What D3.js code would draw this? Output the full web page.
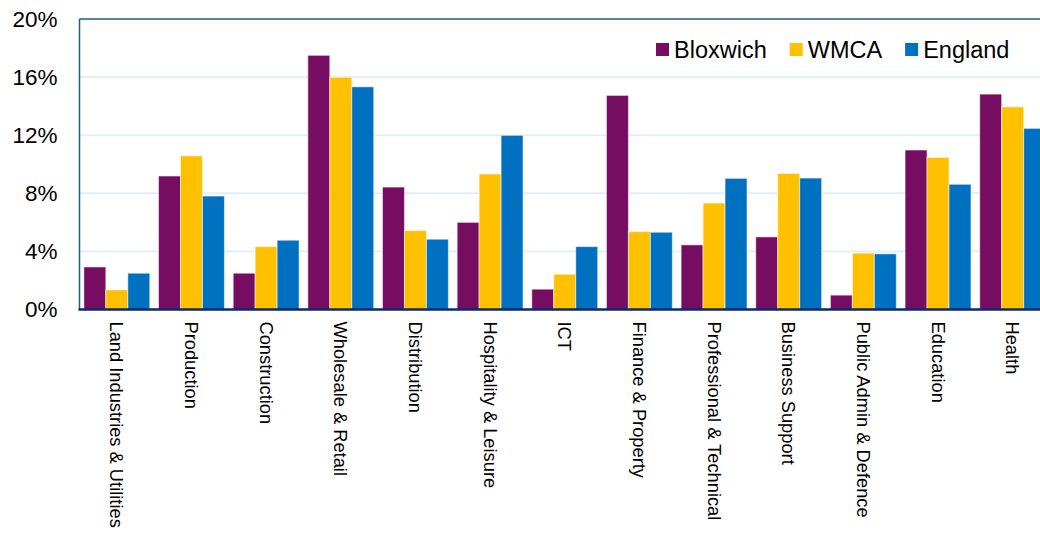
<!DOCTYPE html>
<html>
<head>
<meta charset="utf-8">
<script src="https://cdn.jsdelivr.net/npm/d3@7/dist/d3.min.js"></script>
<style>
  html, body { margin: 0; padding: 0; background: #ffffff; }
  svg { display: block; font-family: "Liberation Sans", Arial, sans-serif; }
</style>
</head>
<body>
<svg id="chart" width="1040" height="534"></svg>
<script>
const categories = ["Land Industries & Utilities", "Production", "Construction", "Wholesale & Retail",
  "Distribution", "Hospitality & Leisure", "ICT", "Finance & Property", "Professional & Technical",
  "Business Support", "Public Admin & Defence", "Education", "Health"];
const seriesNames = ["Bloxwich", "WMCA", "England"];
const bloxwich = [2.93, 9.19, 2.5, 17.5, 8.43, 6.0, 1.4, 14.74, 4.45, 5.0, 0.99, 10.98, 14.83];
const wmca     = [1.35, 10.58, 4.33, 15.99, 5.43, 9.33, 2.43, 5.36, 7.33, 9.37, 3.88, 10.47, 13.95];
const england  = [2.5, 7.81, 4.77, 15.33, 4.84, 11.99, 4.33, 5.32, 9.03, 9.05, 3.83, 8.62, 12.47];
const yTicks = [0, 4, 8, 12, 16, 20];
const colors = ["#770D63", "#FFC000", "#0070C0"];

const seriesValues = [bloxwich, wmca, england];

const svg = d3.select("#chart");
const margin = { left: 79.5, top: 19, right: -10, bottom: 224.5 };
const W = 1040, H = 534;
const x0 = margin.left, x1 = W - margin.right;
const yTop = margin.top, yBot = H - margin.bottom;

const x = d3.scaleBand().domain(categories).range([x0, x1]).paddingInner(0.117).paddingOuter(0.0585);
const xs = d3.scaleBand().domain(seriesNames).range([0, x.bandwidth()]);
const y = d3.scaleLinear().domain([0, 20]).range([yBot, yTop]);

// gridlines
svg.append("g").selectAll("line").data(yTicks.filter(t => t > 0 && t < 20)).join("line")
  .attr("x1", x0).attr("x2", W).attr("y1", d => y(d)).attr("y2", d => y(d))
  .attr("stroke", "#DDF1FB").attr("stroke-width", 2);

// top border
svg.append("line").attr("x1", x0).attr("x2", W).attr("y1", y(20)).attr("y2", y(20))
  .attr("stroke", "#1B5F7C").attr("stroke-width", 1.5);

// bars
const rows = categories.map((c, i) => ({ cat: c, vals: seriesNames.map((s, j) => ({ s, v: seriesValues[j][i], j })) }));
const groups = svg.append("g").selectAll("g").data(rows).join("g")
  .attr("transform", d => `translate(${x(d.cat)},0)`);
groups.selectAll("rect").data(d => d.vals).join("rect")
  .attr("x", d => xs(d.s)).attr("width", xs.bandwidth())
  .attr("y", d => y(d.v)).attr("height", d => y(0) - y(d.v))
  .attr("fill", d => colors[d.j])
  .attr("stroke", "rgba(255,255,255,0.55)").attr("stroke-width", 1);

// left axis line
svg.append("line").attr("x1", x0).attr("x2", x0).attr("y1", y(20)).attr("y2", y(0))
  .attr("stroke", "#1B5F7C").attr("stroke-width", 1.5);

// bottom axis line
svg.append("line").attr("x1", x0 - 1).attr("x2", W).attr("y1", y(0)).attr("y2", y(0))
  .attr("stroke", "#0B2A66").attr("stroke-width", 2.5);

// y axis labels
const yAxis = d3.axisLeft(y).tickValues(yTicks).tickFormat(d => d + "%").tickSize(0).tickPadding(22);
const gy = svg.append("g").attr("transform", `translate(${x0},0)`).call(yAxis);
gy.select(".domain").remove();
gy.selectAll("text").attr("font-size", 22.5).attr("fill", "#000")
  .attr("font-family", "'Liberation Sans', Arial, sans-serif");

// x axis labels
const xAxis = d3.axisBottom(x).tickSize(0).tickPadding(0);
const gx = svg.append("g").attr("transform", `translate(0,${y(0)})`).call(xAxis);
gx.select(".domain").remove();
gx.selectAll("text")
  .attr("font-size", 18.3).attr("fill", "#000")
  .attr("font-family", "'Liberation Sans', Arial, sans-serif")
  .attr("text-anchor", "start")
  .attr("transform", "translate(0,12) rotate(90)")
  .attr("x", 0).attr("y", 0).attr("dy", "0.35em");

// legend (flowed by text width)
const legend = svg.append("g").attr("transform", "translate(656,43)");
let cursor = 0;
seriesNames.forEach((name, i) => {
  const g = legend.append("g").attr("transform", `translate(${cursor},0)`);
  g.append("rect").attr("width", 13).attr("height", 13).attr("fill", colors[i]);
  const t = g.append("text").attr("x", 18).attr("y", 6.5).attr("dy", "0.35em")
    .attr("font-size", 23.5).attr("fill", "#000").text(name);
  const w = t.node().getComputedTextLength();
  cursor += 18 + w + 23;
});
</script>
</body>
</html>
